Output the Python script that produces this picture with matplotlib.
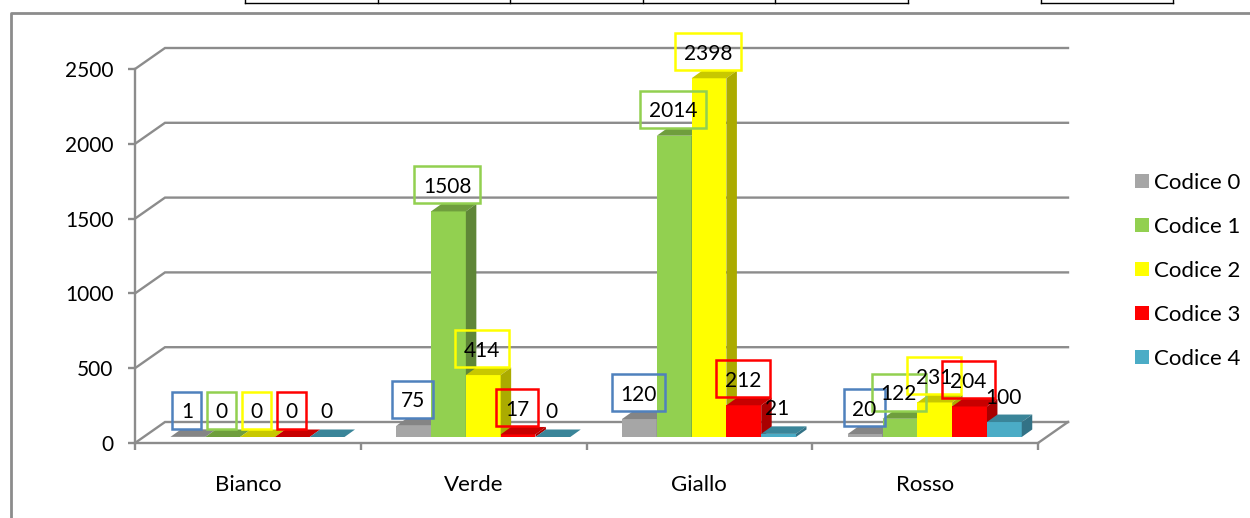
import matplotlib
matplotlib.use('Agg')
import matplotlib.pyplot as plt
from matplotlib.lines import Line2D
from matplotlib.patches import Rectangle
import numpy as np

plt.rcParams['font.family'] = ['Lato', 'DejaVu Sans']

categories = ['Bianco', 'Verde', 'Giallo', 'Rosso']
series_names = ['Codice 0', 'Codice 1', 'Codice 2', 'Codice 3', 'Codice 4']
codice_0 = [1, 75, 120, 20]
codice_1 = [0, 1508, 2014, 122]
codice_2 = [0, 414, 2398, 231]
codice_3 = [0, 17, 212, 204]
codice_4 = [0, 0, 21, 100]
series_values = [codice_0, codice_1, codice_2, codice_3, codice_4]
y_ticks = [0, 500, 1000, 1500, 2000, 2500]

front_colors = ['#A6A6A6', '#92D050', '#FFFF00', '#FF0000', '#4BACC6']
top_colors = ['#858585', '#6F9E3D', '#C8C800', '#C80000', '#3A8599']
side_colors = ['#6E6E6E', '#5F8637', '#ABAB00', '#A80000', '#327286']
box_colors = ['#4F81BD', '#92D050', '#FFFF00', '#FF0000', None]

W, H = 1250, 518
GREY = '#8C8C8C'
FS = 15
FS_TEXT = 16

fig = plt.figure(figsize=(W / 100, H / 100), dpi=100)
ax = fig.add_axes([135 / W, (H - 443) / H, 903 / W, 374 / H])
ax.set_xlim(0, 4)
ax.set_ylim(0, 2500)
ax.patch.set_alpha(0)

# size of one pixel in data units
px = 4 / 903
py = 2500 / 374

# walls and floor of the fake 3d box
wall_dx, wall_dy = 30 * px, 21 * py
right_end = 4 + wall_dx
for v in y_ticks:
    ax.plot([0, wall_dx, right_end], [v, v + wall_dy, v + wall_dy],
            color=GREY, lw=1.7, clip_on=False, zorder=1, solid_joinstyle='miter')
ax.plot([4, right_end], [0, wall_dy], color=GREY, lw=1.7, clip_on=False, zorder=1)

# bars
bar_w = 34.8 * px
bar_start = 35.5 * px
bar_base = 6 * py
depth_x, depth_y = 10.5 * px, 7.5 * py
cat_x = np.arange(len(categories))

for s, values in enumerate(series_values):
    left = cat_x + bar_start + s * bar_w
    z = 3 + s
    ax.bar(left, values, bar_w, bottom=bar_base, align='edge', color=front_colors[s],
           label=series_names[s], clip_on=False, zorder=z)
    for x0, v in zip(left, values):
        y1 = bar_base + v
        x1 = x0 + bar_w
        ax.fill([x0, x1, x1 + depth_x, x0 + depth_x],
                [y1, y1, y1 + depth_y, y1 + depth_y],
                color=top_colors[s], lw=0, clip_on=False, zorder=z)
        ax.fill([x1, x1 + depth_x, x1 + depth_x, x1],
                [bar_base, bar_base + depth_y, y1 + depth_y, y1],
                color=side_colors[s], lw=0, clip_on=False, zorder=z)

# value labels, all sit at the same offset from their bar
for s, values in enumerate(series_values):
    left = cat_x + bar_start + s * bar_w
    for x0, v in zip(left, values):
        tx = x0 + bar_w / 2 - 1 * px
        ty = bar_base + v + 26.5 * py
        ax.text(tx, ty - 2 * py, str(v), ha='center', va='center', fontsize=FS,
                color='black', zorder=20, clip_on=False)
        if box_colors[s]:
            bw = (12.3 * len(str(v)) + 16.7) * px
            bh = 37 * py
            ax.add_patch(Rectangle((tx - bw / 2, ty - bh / 2), bw, bh, fill=False,
                                   edgecolor=box_colors[s], lw=1.8, clip_on=False,
                                   zorder=19))

# axes
for name in ['top', 'right']:
    ax.spines[name].set_visible(False)
for name in ['left', 'bottom']:
    ax.spines[name].set_color(GREY)
    ax.spines[name].set_linewidth(1.7)
ax.set_yticks(y_ticks)
ax.set_yticklabels([str(v) for v in y_ticks], fontsize=FS)
ax.tick_params(axis='y', length=5, width=1.7, color=GREY, pad=10.5)
ax.set_xticks(range(len(categories) + 1))
ax.set_xticklabels([])
ax.tick_params(axis='x', which='major', length=5, width=1.7, color=GREY)
ax.set_xticks(cat_x + 0.5, minor=True)
ax.set_xticklabels(categories, minor=True, fontsize=FS_TEXT)
ax.tick_params(axis='x', which='minor', length=0, pad=23)

ax.legend(loc='center left', bbox_to_anchor=(1135 / W, (H - 271) / H),
          bbox_transform=fig.transFigure, frameon=False, fontsize=FS_TEXT, borderpad=0,
          borderaxespad=0, handlelength=0.63, handleheight=0.63, handletextpad=0.225,
          labelspacing=1.08)


# chart frame and the bit of table cut off above it
def page_line(x, y, color, lw):
    fig.add_artist(Line2D([v / W for v in x], [1 - v / H for v in y], color=color, lw=lw))


page_line([1250, 11, 11], [13, 13, 518], GREY, 2)
page_line([245, 908], [3, 3], 'black', 1)
page_line([1041, 1173], [3, 3], 'black', 1)
for x in [245, 378, 510, 643, 775, 908, 1041, 1173]:
    page_line([x, x], [0, 3], 'black', 1)

fig.savefig('out.png', dpi=100)
